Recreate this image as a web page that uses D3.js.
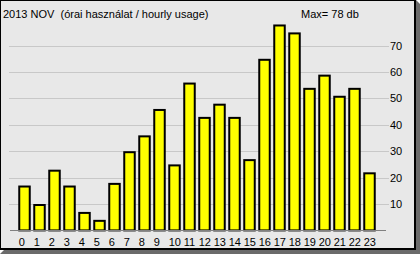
<!DOCTYPE html>
<meta charset="utf-8">
<script src="https://cdn.jsdelivr.net/npm/d3@7"></script>
<style>
body { margin: 0; background: #fff; }
text { font-family: "Liberation Sans", Arial, sans-serif; font-size: 11px; fill: #000; white-space: pre; }
</style>
<body>
<script>

// hourly usage, Nov 2013
var hours = d3.range(24).map(String);
var usage = [17, 10, 23, 17, 7, 4, 18, 30, 36, 46, 25, 56, 43, 48, 43, 27, 65, 78, 75, 54, 59, 51, 54, 22];
var yTicks = [10, 20, 30, 40, 50, 60, 70];
var title = "2013 NOV  (órai használat / hourly usage)";
var maxLabel = "Max= 78 db";

var W = 420, H = 254;
var svg = d3.select("body").append("svg")
    .attr("width", W)
    .attr("height", H);

// frame + drop shadow
svg.append("polygon")
    .attr("points", "416,0 420,4 420,254 0,254 4,250 416,250")
    .style("fill", "#6b6b6b");
svg.append("rect")
    .attr("x", 0).attr("y", 0)
    .attr("width", 416).attr("height", 250)
    .style("fill", "#000");
svg.append("rect")
    .attr("x", 1).attr("y", 1)
    .attr("width", 413).attr("height", 247)
    .style("fill", "#e8e8e8");

var x = d3.scaleBand()
    .domain(hours)
    .range([17, 377])
    .paddingInner(0.1667)
    .paddingOuter(0.0833);

var y = d3.scaleLinear()
    .domain([0, 10])
    .range([230.4, 204]);

// grid lines
svg.selectAll(".grid")
    .data(yTicks)
    .enter().append("line")
    .attr("class", "grid")
    .attr("x1", 9).attr("x2", 389)
    .attr("y1", function(d) { return Math.round(y(d)) + 0.5; })
    .attr("y2", function(d) { return Math.round(y(d)) + 0.5; })
    .style("stroke", "#c8c8c8")
    .style("stroke-width", 1);

svg.selectAll(".ylab")
    .data(yTicks)
    .enter().append("text")
    .attr("class", "ylab")
    .attr("x", 390)
    .attr("y", function(d) { return y(d); })
    .attr("dy", "0.36em")
    .text(String);

// bars
svg.selectAll(".bar")
    .data(usage)
    .enter().append("rect")
    .attr("class", "bar")
    .attr("x", function(d, i) { return x(hours[i]) + 1; })
    .attr("width", x.bandwidth() - 2)
    .attr("y", function(d) { return y(d) + 1; })
    .attr("height", function(d) { return y(0) - y(d) - 1; })
    .style("fill", "#ffff00")
    .style("stroke", "#000")
    .style("stroke-width", 2);

// baseline
svg.append("line")
    .attr("x1", 10).attr("x2", 386)
    .attr("y1", 230.5).attr("y2", 230.5)
    .style("stroke", "#808080")
    .style("stroke-width", 1);

svg.selectAll(".xlab")
    .data(hours)
    .enter().append("text")
    .attr("class", "xlab")
    .attr("x", function(d) { return x(d) + 0.5; })
    .attr("y", 246)
    .text(String);

svg.append("text")
    .attr("x", 3)
    .attr("y", 17.5)
    .text(title);

svg.append("text")
    .attr("x", 301)
    .attr("y", 17.5)
    .text(maxLabel);

</script>
</body>
</html>
